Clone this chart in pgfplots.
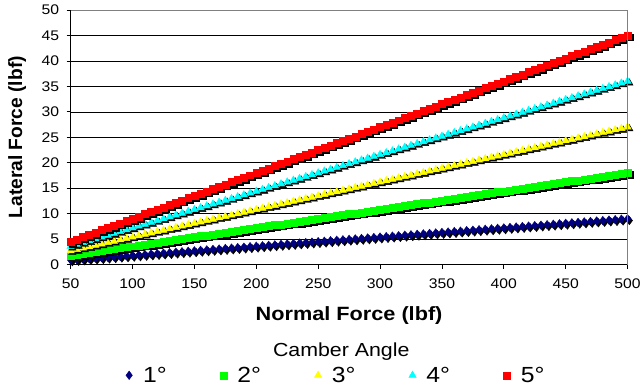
\documentclass[border=0pt]{standalone}
\usepackage{pgfplots}
\usepackage{pgfplotstable}
\pgfplotsset{compat=1.18}
\usepackage{fontspec}
\setmainfont{Liberation Sans}[FakeStretch=1.13]
\newfontfamily\widebold{Liberation Sans Bold}[FakeStretch=1.13]
\newfontfamily\plainbold{Liberation Sans Bold}

\definecolor{navyS}{HTML}{000080}
\definecolor{limeS}{HTML}{00FF00}
\definecolor{yelS}{HTML}{FFFF00}
\definecolor{cyanS}{HTML}{00FFFF}
\definecolor{redS}{HTML}{FF0000}

% Lateral force (lbf) against normal force (lbf) for camber angles 1..5 deg
\pgfplotstableread{
N    c1    c2    c3    c4    c5
50   0.9   1.8   2.7   3.6   4.5
55   0.99  1.98  2.97  3.96  4.95
60   1.08  2.16  3.24  4.32  5.4
65   1.17  2.34  3.51  4.68  5.85
70   1.26  2.52  3.78  5.04  6.3
75   1.35  2.7   4.05  5.4   6.75
80   1.44  2.88  4.32  5.76  7.2
85   1.53  3.06  4.59  6.12  7.65
90   1.62  3.24  4.86  6.48  8.1
95   1.71  3.42  5.13  6.84  8.55
100  1.8   3.6   5.4   7.2   9
105  1.89  3.78  5.67  7.56  9.45
110  1.98  3.96  5.94  7.92  9.9
115  2.07  4.14  6.21  8.28  10.35
120  2.16  4.32  6.48  8.64  10.8
125  2.25  4.5   6.75  9     11.25
130  2.34  4.68  7.02  9.36  11.7
135  2.43  4.86  7.29  9.72  12.15
140  2.52  5.04  7.56  10.08 12.6
145  2.61  5.22  7.83  10.44 13.05
150  2.7   5.4   8.1   10.8  13.5
155  2.79  5.58  8.37  11.16 13.95
160  2.88  5.76  8.64  11.52 14.4
165  2.97  5.94  8.91  11.88 14.85
170  3.06  6.12  9.18  12.24 15.3
175  3.15  6.3   9.45  12.6  15.75
180  3.24  6.48  9.72  12.96 16.2
185  3.33  6.66  9.99  13.32 16.65
190  3.42  6.84  10.26 13.68 17.1
195  3.51  7.02  10.53 14.04 17.55
200  3.6   7.2   10.8  14.4  18
205  3.69  7.38  11.07 14.76 18.45
210  3.78  7.56  11.34 15.12 18.9
215  3.87  7.74  11.61 15.48 19.35
220  3.96  7.92  11.88 15.84 19.8
225  4.05  8.1   12.15 16.2  20.25
230  4.14  8.28  12.42 16.56 20.7
235  4.23  8.46  12.69 16.92 21.15
240  4.32  8.64  12.96 17.28 21.6
245  4.41  8.82  13.23 17.64 22.05
250  4.5   9     13.5  18    22.5
255  4.59  9.18  13.77 18.36 22.95
260  4.68  9.36  14.04 18.72 23.4
265  4.77  9.54  14.31 19.08 23.85
270  4.86  9.72  14.58 19.44 24.3
275  4.95  9.9   14.85 19.8  24.75
280  5.04  10.08 15.12 20.16 25.2
285  5.13  10.26 15.39 20.52 25.65
290  5.22  10.44 15.66 20.88 26.1
295  5.31  10.62 15.93 21.24 26.55
300  5.4   10.8  16.2  21.6  27
305  5.49  10.98 16.47 21.96 27.45
310  5.58  11.16 16.74 22.32 27.9
315  5.67  11.34 17.01 22.68 28.35
320  5.76  11.52 17.28 23.04 28.8
325  5.85  11.7  17.55 23.4  29.25
330  5.94  11.88 17.82 23.76 29.7
335  6.03  12.06 18.09 24.12 30.15
340  6.12  12.24 18.36 24.48 30.6
345  6.21  12.42 18.63 24.84 31.05
350  6.3   12.6  18.9  25.2  31.5
355  6.39  12.78 19.17 25.56 31.95
360  6.48  12.96 19.44 25.92 32.4
365  6.57  13.14 19.71 26.28 32.85
370  6.66  13.32 19.98 26.64 33.3
375  6.75  13.5  20.25 27    33.75
380  6.84  13.68 20.52 27.36 34.2
385  6.93  13.86 20.79 27.72 34.65
390  7.02  14.04 21.06 28.08 35.1
395  7.11  14.22 21.33 28.44 35.55
400  7.2   14.4  21.6  28.8  36
405  7.29  14.58 21.87 29.16 36.45
410  7.38  14.76 22.14 29.52 36.9
415  7.47  14.94 22.41 29.88 37.35
420  7.56  15.12 22.68 30.24 37.8
425  7.65  15.3  22.95 30.6  38.25
430  7.74  15.48 23.22 30.96 38.7
435  7.83  15.66 23.49 31.32 39.15
440  7.92  15.84 23.76 31.68 39.6
445  8.01  16.02 24.03 32.04 40.05
450  8.1   16.2  24.3  32.4  40.5
455  8.19  16.38 24.57 32.76 40.95
460  8.28  16.56 24.84 33.12 41.4
465  8.37  16.74 25.11 33.48 41.85
470  8.46  16.92 25.38 33.84 42.3
475  8.55  17.1  25.65 34.2  42.75
480  8.64  17.28 25.92 34.56 43.2
485  8.73  17.46 26.19 34.92 43.65
490  8.82  17.64 26.46 35.28 44.1
495  8.91  17.82 26.73 35.64 44.55
500  9     18    27    36    45
}\forcedata

\begin{document}
\begin{tikzpicture}
\begin{axis}[
  scale only axis,
  width=560pt, height=256pt,
  clip mode=individual,
  xmin=50, xmax=500, ymin=0, ymax=50,
  xtick={50,100,...,500},
  ytick={0,5,...,50},
  axis x line*=bottom, axis y line*=left,
  axis line style={black, line width=0.8pt, -},
  tick align=outside,
  major tick length=4pt,
  tick style={black, line width=0.6pt},
  ymajorgrids,
  major grid style={black, line width=0.5pt},
  /pgf/number format/assume math mode=true,
  ticklabel style={font=\fontsize{14}{16}\selectfont},
  xticklabel shift=7pt,
  yticklabel shift=4pt,
  xlabel={\widebold Normal Force (lbf)},
  ylabel={\plainbold Lateral Force (lbf)},
  xlabel style={font=\fontsize{19.3}{22}\selectfont,
    at={(axis description cs:0.5,-0.2)}, anchor=center},
  ylabel style={font=\fontsize{19.3}{22}\selectfont,
    at={(axis description cs:-0.096,0.5)}, anchor=center},
  legend columns=5,
  legend style={
    at={(axis description cs:0.476,-0.435)}, anchor=center,
    draw=none, fill=none,
    font=\fontsize{22}{24}\selectfont,
    /tikz/every even column/.append style={column sep=51pt},
  },
  legend image code/.code={%
    \draw[#1] plot coordinates {(0cm,0cm)};
    \path[draw=none, fill=none] (-0.15cm,0cm) rectangle (0.42cm,0cm);},
  legend cell align=left,
  shadow/.style={only marks, black, forget plot,
    every mark/.append style={xshift=1.8pt, yshift=-1.8pt}},
]
% 1 deg
\addplot[shadow, mark=diamond*, mark size=4.3pt] table[x=N, y=c1] {\forcedata};
\addplot[only marks, mark=diamond*, mark size=4.3pt, draw=navyS, fill=navyS] table[x=N, y=c1] {\forcedata};
% 2 deg
\addplot[shadow, mark=square*, mark size=3.5pt] table[x=N, y=c2] {\forcedata};
\addplot[only marks, mark=square*, mark size=3.5pt, draw=limeS, fill=limeS] table[x=N, y=c2] {\forcedata};
% 3 deg
\addplot[shadow, mark=triangle*, mark size=4.3pt] table[x=N, y=c3] {\forcedata};
\addplot[only marks, mark=triangle*, mark size=4.3pt, draw=yelS, fill=yelS] table[x=N, y=c3] {\forcedata};
% 4 deg
\addplot[shadow, mark=triangle*, mark size=4.3pt] table[x=N, y=c4] {\forcedata};
\addplot[only marks, mark=triangle*, mark size=4.3pt, draw=cyanS, fill=cyanS] table[x=N, y=c4] {\forcedata};
% 5 deg
\addplot[shadow, mark=square*, mark size=3.5pt] table[x=N, y=c5] {\forcedata};
\addplot[only marks, mark=square*, mark size=3.5pt, draw=redS, fill=redS] table[x=N, y=c5] {\forcedata};

\legend{1°, 2°, 3°, 4°, 5°}

\node[font=\fontsize{19}{22}\selectfont, anchor=center]
  at (axis description cs:0.486,-0.343) {Camber Angle};
\end{axis}
% plot-area frame on the top and right sides
\draw[gray, line width=0.8pt] (current axis.north west) -- (current axis.north east) -- (current axis.south east);
% overall page extent
\path ([shift={(-71pt,-124pt)}]current axis.south west) rectangle ([shift={(573pt,266pt)}]current axis.south west);
\end{tikzpicture}
\end{document}
